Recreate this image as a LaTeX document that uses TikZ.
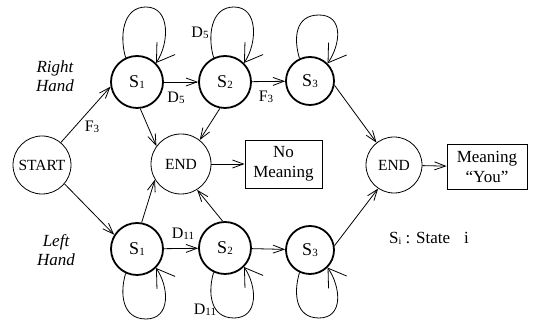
\documentclass[tikz,border=0pt]{standalone}
\usepackage{fontspec}
\setmainfont{Liberation Serif}
\usetikzlibrary{arrows.meta,calc}

% small lowered index after a letter (S1, D5, F3, ...)
\newcommand{\idx}[1]{\raisebox{-1.5pt}{\fontsize{11}{11}\selectfont #1}}

% self-loop above / below a state node: #1 node, #2 loop height
\newcommand{\uploop}[2]{%
  \draw[loopedge] (#1.115) .. controls +(-6,20) and +(-24,0) ..
    ($(#1.center)+(9,#2)$) .. controls +(25,0) and +(13,19) .. (#1.45);}
\newcommand{\downloop}[2]{%
  \draw[loopedge] (#1.-115) .. controls +(-6,-20) and +(-24,0) ..
    ($(#1.center)+(9,-#2)$) .. controls +(25,0) and +(13,-19) .. (#1.-45);}

\begin{document}
\begin{tikzpicture}[x=1pt,y=1pt,line width=0.8pt,
  term/.style={circle,draw,line width=0.8pt,inner sep=0pt,
    font=\fontsize{15.5}{15.5}\selectfont},
  state/.style={circle,draw,line width=1.8pt,inner sep=0pt,
    minimum size=52pt,font=\fontsize{18}{18}\selectfont},
  outbox/.style={rectangle,draw,line width=0.8pt,align=center,inner sep=0pt,
    font=\fontsize{17}{20}\selectfont},
  edge/.style={-{Straight Barb[length=11pt,width=8pt]},line width=0.8pt},
  loopedge/.style={-{Straight Barb[length=17pt,width=22pt]},line width=0.8pt},
  lab/.style={inner sep=0pt,font=\fontsize{16}{16}\selectfont},
  hand/.style={inner sep=0pt,align=center,font=\fontsize{17}{19}\selectfont\itshape}]
\useasboundingbox (0,0) rectangle (536,320);

% terminal nodes and result boxes
\node[term,minimum size=58pt] (start) at (42,155) {START};
\node[term,minimum size=60pt] (end1) at (181,156) {END};
\node[term,minimum size=56pt] (end2) at (394,155) {END};
\node[outbox,minimum width=77pt,minimum height=48pt] (nomean) at (283.5,156) {No\\Meaning};
\node[outbox,minimum width=80pt,minimum height=45pt] (you) at (487,153) {Meaning\\“You”};

% right-hand states
\node[state] (s1t) at (137,238) {S\idx{1}};
\node[state] (s2t) at (225,238) {S\idx{2}};
\node[state,minimum size=48pt] (s3t) at (310,239) {S\idx{3}};
% left-hand states
\node[state] (s1b) at (137,71) {S\idx{1}};
\node[state] (s2b) at (225,72) {S\idx{2}};
\node[state,minimum size=48pt] (s3b) at (310,70) {S\idx{3}};

% transitions
\draw[edge] (start.50) -- (s1t.190);
\draw[edge] (start.-40) -- (s1b.148);
\draw[edge] (s1t) -- (s2t);
\draw[edge] (s2t) -- (s3t);
\draw[edge] (s1t.-83) -- (end1.144);
\draw[edge] (s2t.-101) -- (end1.52);
\draw[edge] (s1b.80) -- (end1.211);
\draw[edge] (s2b.95) -- (end1.-58);
\draw[edge] (s1b) -- (s2b);
\draw[edge] (s2b) -- (s3b);
\draw[edge] (s3t.-10) -- (end2.128);
\draw[edge] (s3b.10) -- (end2.236);
\draw[edge] (end1) -- (nomean);
\draw[edge] (end2) -- (you);

% self-loops
\uploop{s1t}{75}
\uploop{s2t}{75}
\uploop{s3t}{66}
\downloop{s1b}{70}
\downloop{s2b}{70}
\downloop{s3b}{68}

% transition labels
\node[lab] (lf3a) at (92,193) {F\idx{3}};
\node[lab] (ld5a) at (176,222) {D\idx{5}};
\node[lab] (ld5b) at (200,287) {D\idx{5}};
\node[lab] (lf3b) at (266,223) {F\idx{3}};
\node[lab] (ld11a) at (183,86) {D\idx{11}};
\node[lab] (ld11b) at (205,10) {D\idx{11}};

% side captions and legend
\node[hand] (rh) at (55,244) {Right\\Hand};
\node[hand] (lh) at (56,70) {Left\\Hand};
\node[inner sep=0pt,font=\fontsize{17}{17}\selectfont] (legend) at (429,82)
  {S\raisebox{-1pt}{\fontsize{10}{10}\selectfont i} : State\hspace{14pt}i};
\end{tikzpicture}
\end{document}
